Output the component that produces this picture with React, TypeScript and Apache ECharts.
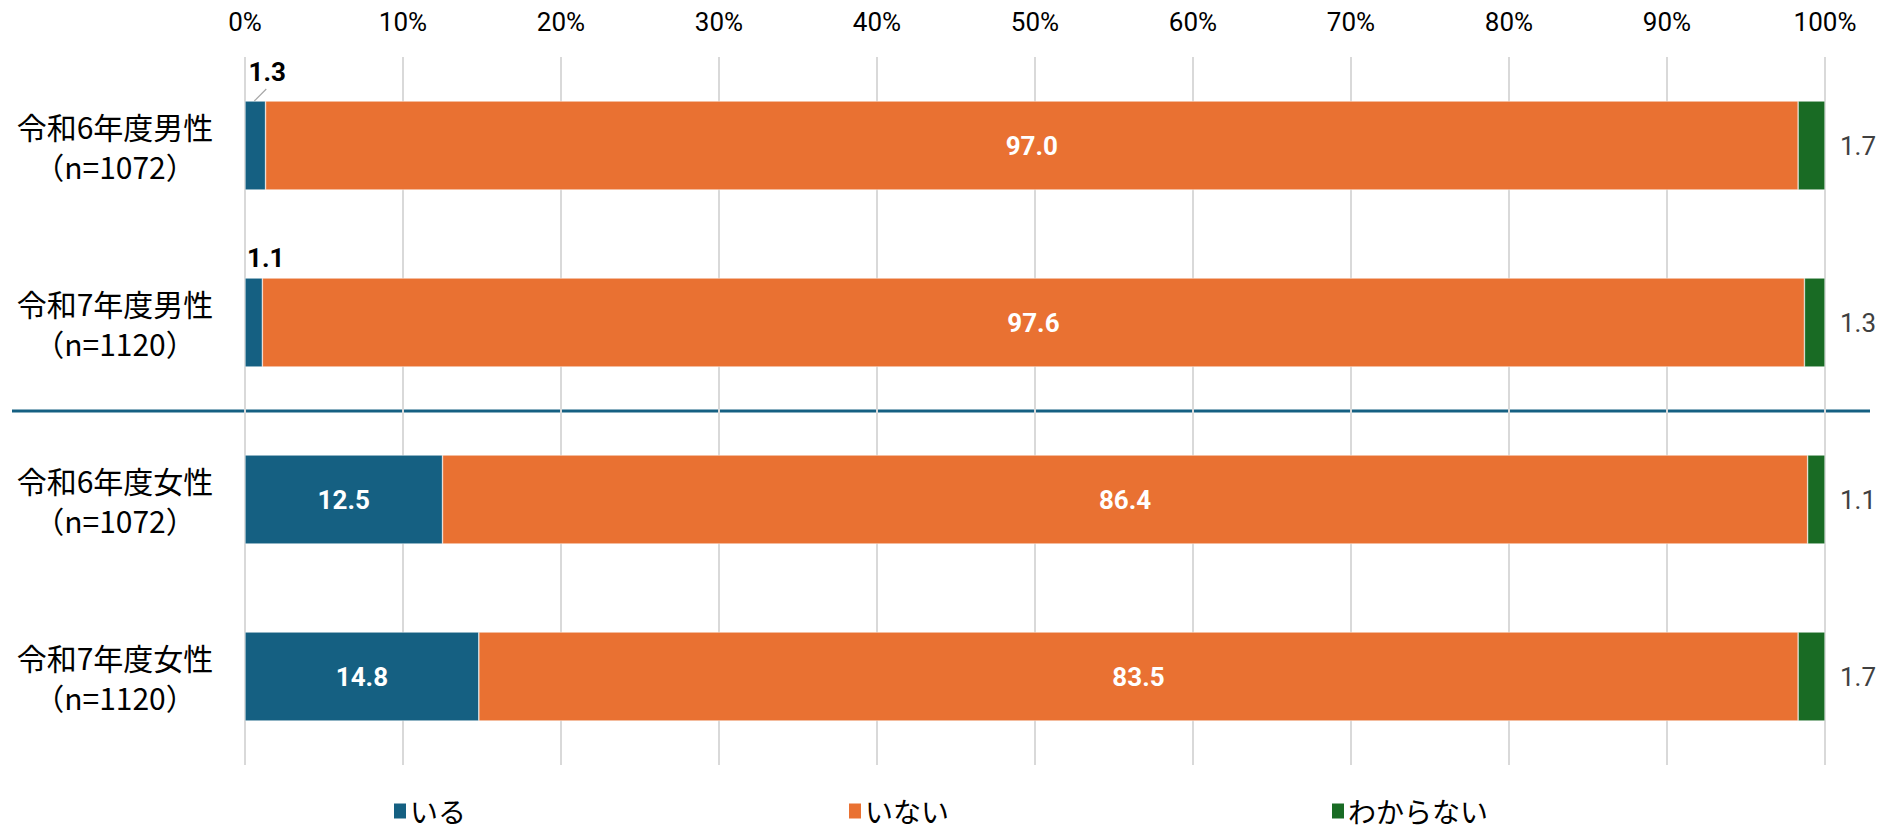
import React, { useEffect, useRef } from "react";
import * as echarts from "echarts";

const categories = [
  "令和6年度男性\n（n=1072）",
  "令和7年度男性\n（n=1120）",
  "令和6年度女性\n（n=1072）",
  "令和7年度女性\n（n=1120）",
];
const seriesNames = ["いる", "いない", "わからない"];
const iru = [1.3, 1.1, 12.5, 14.8];
const inai = [97.0, 97.6, 86.4, 83.5];
const wakaranai = [1.7, 1.3, 1.1, 1.7];
const xTicks = [0, 10, 20, 30, 40, 50, 60, 70, 80, 90, 100];

const colors = ["#156082", "#E97132", "#196B24"];
const NUM_FONT = "'Roboto', 'Noto Sans CJK JP', sans-serif";
const JP_FONT = "'Noto Sans CJK JP', sans-serif";
const legendLefts = [387, 842, 1325];

export default function App() {
  const ref = useRef<HTMLDivElement>(null);
  useEffect(() => {
    document.body.style.margin = "0";
    if (!ref.current) return;
    const chart = echarts.init(ref.current, null, { renderer: "svg" });
    const fmt = (p: any) => Number(p.value).toFixed(1);
    const small = (v: number) => v < 5;
    const iruData = iru.map((v) =>
      small(v)
        ? {
            value: v,
            label: {
              position: "top",
              distance: 7,
              color: "#000",
              fontWeight: "bold",
            },
          }
        : v
    );
    const barLabel = {
      show: true,
      position: "inside",
      color: "#fff",
      fontWeight: "bold",
      fontSize: 26,
      fontFamily: NUM_FONT,
      formatter: fmt,
    };
    chart.setOption({
      animation: false,
      color: colors,
      grid: { left: 245, right: 54, top: 57, bottom: 67 },
      xAxis: {
        type: "value",
        position: "top",
        min: 0,
        max: 100,
        interval: 10,
        axisLine: { show: false },
        axisTick: { show: false },
        axisLabel: {
          formatter: (v: number) => (xTicks.includes(v) ? v + "%" : ""),
          color: "#000",
          fontSize: 26,
          fontFamily: NUM_FONT,
          margin: 22,
        },
        splitLine: { lineStyle: { color: "#d9d9d9", width: 2 } },
      },
      yAxis: {
        type: "category",
        inverse: true,
        data: categories,
        axisLine: { show: false },
        axisTick: { show: false },
        axisLabel: {
          align: "center",
          margin: 130,
          color: "#000",
          fontSize: 30,
          lineHeight: 40,
          fontFamily: JP_FONT,
        },
      },
      legend: seriesNames.map((n, i) => ({
        bottom: 2,
        left: legendLefts[i],
        itemWidth: 14,
        itemHeight: 17,
        itemGap: 0,
        icon: "rect",
        textStyle: { fontSize: 28, color: "#000", fontFamily: JP_FONT, padding: [0, 0, 0, -2] },
        data: [n],
      })),
      series: [
        {
          name: seriesNames[0],
          type: "bar",
          stack: "s",
          barWidth: 89,
          data: iruData,
          itemStyle: { borderColor: "#ffffff", borderWidth: 0.5 },
          label: barLabel,
          labelLayout: (p: any) =>
            small(iru[p.dataIndex]) ? { dx: 12, dy: p.dataIndex === 0 ? -9 : 0 } : {},
        },
        {
          name: seriesNames[1],
          type: "bar",
          stack: "s",
          barWidth: 89,
          data: inai,
          itemStyle: { borderColor: "#ffffff", borderWidth: 0.5 },
          label: barLabel,
        },
        {
          name: seriesNames[2],
          type: "bar",
          stack: "s",
          barWidth: 89,
          data: wakaranai,
          itemStyle: { borderColor: "#ffffff", borderWidth: 0.5 },
          label: {
            show: true,
            position: "right",
            distance: 15,
            color: "#404040",
            fontSize: 26,
            fontFamily: NUM_FONT,
            formatter: fmt,
          },
        },
      ],
    });
    // separator between male and female groups and leader line for the first small label
    const c1 = chart.convertToPixel({ gridIndex: 0 }, [0, 1]) as number[];
    const c2 = chart.convertToPixel({ gridIndex: 0 }, [0, 2]) as number[];
    const sepY = (c1[1] + c2[1]) / 2;
    const p0 = chart.convertToPixel({ gridIndex: 0 }, [iru[0] / 2, 0]) as number[];
    const barTop = p0[1] - 89 / 2;
    chart.setOption({
      graphic: [
        {
          type: "line",
          z: -1,
          shape: { x1: 12, y1: sepY, x2: 1870, y2: sepY },
          style: { stroke: "#156082", lineWidth: 3 },
        },
        {
          type: "line",
          shape: { x1: p0[0] - 1, y1: barTop, x2: p0[0] + 11, y2: barTop - 12 },
          style: { stroke: "#a6a6a6", lineWidth: 1.2 },
        },
      ],
    });
    return () => chart.dispose();
  }, []);
  return <div ref={ref} style={{ width: 1879, height: 832 }} />;
}
